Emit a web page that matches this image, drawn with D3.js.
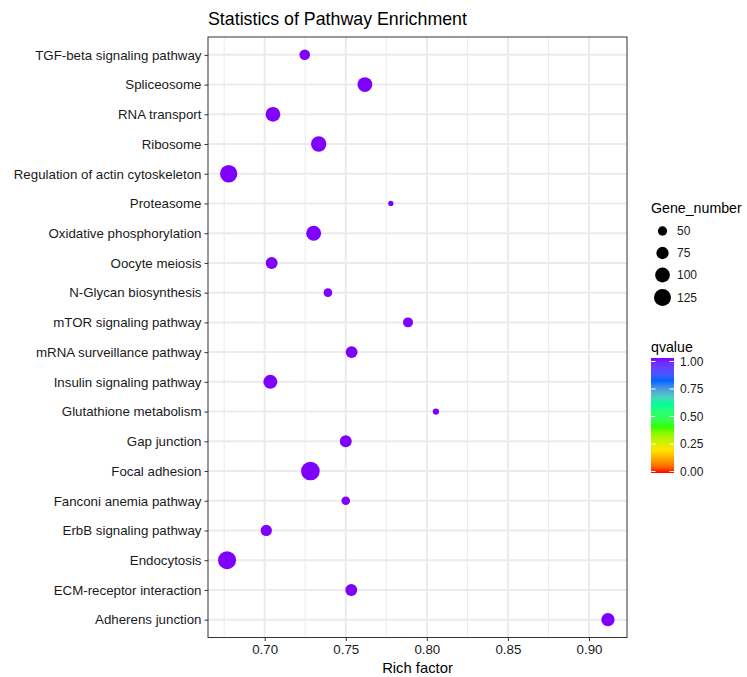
<!DOCTYPE html>
<html>
<head>
<meta charset="utf-8">
<script src="https://cdn.jsdelivr.net/npm/d3@7"></script>
<style>
  html, body { margin: 0; padding: 0; background: #fff; }
  svg text { font-family: "Liberation Sans", Arial, Helvetica, sans-serif; }
</style>
</head>
<body>
<svg id="chart" width="747" height="677"></svg>
<script>
// Pathway enrichment data (top-to-bottom order on the y axis)
const pathways = [
  "TGF-beta signaling pathway", "Spliceosome", "RNA transport", "Ribosome",
  "Regulation of actin cytoskeleton", "Proteasome", "Oxidative phosphorylation",
  "Oocyte meiosis", "N-Glycan biosynthesis", "mTOR signaling pathway",
  "mRNA surveillance pathway", "Insulin signaling pathway", "Glutathione metabolism",
  "Gap junction", "Focal adhesion", "Fanconi anemia pathway", "ErbB signaling pathway",
  "Endocytosis", "ECM-receptor interaction", "Adherens junction"
];
const richFactor = [
  0.7247, 0.7618, 0.7051, 0.7333, 0.6778, 0.7778, 0.7302, 0.7043, 0.7390, 0.7884,
  0.7536, 0.7035, 0.8056, 0.7500, 0.7282, 0.7500, 0.7010, 0.6768, 0.7534, 0.9117
];
const geneNumber = [
  60, 100, 100, 106, 129, 24, 102, 72, 46, 55,
  72, 92, 30, 72, 146, 45, 66, 137, 72, 85
];
const qvalue = [
  1, 1, 1, 1, 1, 1, 1, 1, 1, 1,
  1, 1, 1, 1, 1, 1, 1, 1, 1, 1
];
const xTicks = [0.70, 0.75, 0.80, 0.85, 0.90];
const sizeBreaks = [50, 75, 100, 125];
const qTicks = [0, 0.25, 0.5, 0.75, 1];
const qColours = ["#FF0000", "#FFE500", "#33FF00", "#00FF99", "#0066FF", "#8000FF"];

const svg = d3.select("#chart");
const panel = { left: 208, right: 627, top: 37, bottom: 637.5 };

// x scale with 5% padding on each side of the data range
const [xmin, xmax] = d3.extent(richFactor);
const pad = (xmax - xmin) * 0.05;
const x = d3.scaleLinear().domain([xmin - pad, xmax + pad]).range([panel.left, panel.right]);

// discrete y scale, 0.6 step padding at each end
const y = d3.scalePoint().domain(pathways)
  .range([panel.top, panel.bottom]).padding(0.6);

// point size: diameter linear in sqrt(gene count)
const diam = d3.scaleLinear().domain([Math.sqrt(50), Math.sqrt(125)]).range([9.3, 17]);
const radius = n => diam(Math.sqrt(n)) / 2;

// qvalue colour gradient
const colour = d3.scaleLinear()
  .domain(qColours.map((c, i) => i / (qColours.length - 1)))
  .range(qColours).interpolate(d3.interpolateLab);

// panel background and grid
svg.append("rect").attr("x", panel.left).attr("y", panel.top)
  .attr("width", panel.right - panel.left).attr("height", panel.bottom - panel.top)
  .attr("fill", "#fff");

const minorTicks = [];
for (let i = 0; i < xTicks.length - 1; i++) minorTicks.push((xTicks[i] + xTicks[i + 1]) / 2);
minorTicks.unshift(xTicks[0] - 0.025);
minorTicks.push(xTicks[xTicks.length - 1] + 0.025);

const grid = svg.append("g");
grid.selectAll("line.minor").data(minorTicks.filter(t => x(t) > panel.left && x(t) < panel.right))
  .join("line").attr("class", "minor")
  .attr("x1", d => x(d)).attr("x2", d => x(d))
  .attr("y1", panel.top).attr("y2", panel.bottom)
  .attr("stroke", "#ebebeb").attr("stroke-width", 1);
grid.selectAll("line.majorx").data(xTicks).join("line").attr("class", "majorx")
  .attr("x1", d => x(d)).attr("x2", d => x(d))
  .attr("y1", panel.top).attr("y2", panel.bottom)
  .attr("stroke", "#ebebeb").attr("stroke-width", 2);
grid.selectAll("line.majory").data(pathways).join("line").attr("class", "majory")
  .attr("x1", panel.left).attr("x2", panel.right)
  .attr("y1", d => y(d)).attr("y2", d => y(d))
  .attr("stroke", "#ebebeb").attr("stroke-width", 2);

// points
const rows = pathways.map((p, i) => ({ p, rf: richFactor[i], n: geneNumber[i], q: qvalue[i] }));
svg.append("g").selectAll("circle").data(rows).join("circle")
  .attr("cx", d => x(d.rf)).attr("cy", d => y(d.p))
  .attr("r", d => radius(d.n))
  .attr("fill", d => colour(d.q));

// panel border
svg.append("rect").attr("x", panel.left).attr("y", panel.top)
  .attr("width", panel.right - panel.left).attr("height", panel.bottom - panel.top)
  .attr("fill", "none").attr("stroke", "#333").attr("stroke-width", 1);

// axes
const xAxis = svg.append("g").attr("transform", `translate(0,${panel.bottom})`)
  .call(d3.axisBottom(x).tickValues(xTicks).tickFormat(d3.format(".2f")).tickSize(3.5).tickPadding(3));
const yAxis = svg.append("g").attr("transform", `translate(${panel.left},0)`)
  .call(d3.axisLeft(y).tickSize(3.5).tickPadding(3));
[xAxis, yAxis].forEach(a => {
  a.select(".domain").remove();
  a.selectAll(".tick line").attr("stroke", "#333");
  a.selectAll(".tick text").attr("fill", "#1a1a1a").attr("font-size", 13.3);
});
xAxis.selectAll(".tick text").attr("dy", "0.75em");

// titles
svg.append("text").attr("x", panel.left).attr("y", 25)
  .attr("font-size", 17.8).attr("fill", "#000").text("Statistics of Pathway Enrichment");
svg.append("text").attr("x", (panel.left + panel.right) / 2).attr("y", 673)
  .attr("text-anchor", "middle").attr("font-size", 14.8).attr("fill", "#000").text("Rich factor");

// size legend
const sizeLeg = svg.append("g");
sizeLeg.append("text").attr("x", 651).attr("y", 213).attr("font-size", 14.2).text("Gene_number");
const keyH = sizeBreaks.map(b => Math.max(diam(Math.sqrt(b)) + 6, 22));
let ky = 220;
sizeBreaks.forEach((b, i) => {
  const cy = ky + keyH[i] / 2;
  sizeLeg.append("circle").attr("cx", 662.5).attr("cy", cy).attr("r", radius(b)).attr("fill", "#000");
  sizeLeg.append("text").attr("x", 677).attr("y", cy).attr("dy", "0.35em")
    .attr("font-size", 12).attr("fill", "#1a1a1a").text(b);
  ky += keyH[i];
});

// colour bar legend
const cb = { x: 651, y: 358, w: 23, h: 115 };
const defs = svg.append("defs");
const grad = defs.append("linearGradient").attr("id", "qgrad")
  .attr("x1", "0").attr("y1", "1").attr("x2", "0").attr("y2", "0");
d3.range(0, 1.0001, 0.05).forEach(t => {
  grad.append("stop").attr("offset", t).attr("stop-color", colour(t));
});
svg.append("text").attr("x", 651).attr("y", 352).attr("font-size", 14.2).text("qvalue");
svg.append("rect").attr("x", cb.x).attr("y", cb.y).attr("width", cb.w).attr("height", cb.h)
  .attr("fill", "url(#qgrad)");
const qy = d3.scaleLinear().domain([0, 1]).range([cb.y + cb.h - 1.5, cb.y + 3.5]);
const cbTicks = svg.append("g");
qTicks.forEach(t => {
  cbTicks.append("line").attr("x1", cb.x).attr("x2", cb.x + 4.5)
    .attr("y1", qy(t)).attr("y2", qy(t)).attr("stroke", "#fff").attr("stroke-width", 1);
  cbTicks.append("line").attr("x1", cb.x + cb.w - 4.5).attr("x2", cb.x + cb.w)
    .attr("y1", qy(t)).attr("y2", qy(t)).attr("stroke", "#fff").attr("stroke-width", 1);
  cbTicks.append("text").attr("x", 680).attr("y", qy(t)).attr("dy", "0.35em")
    .attr("font-size", 12).attr("fill", "#1a1a1a").text(d3.format(".2f")(t));
});
</script>
</body>
</html>
